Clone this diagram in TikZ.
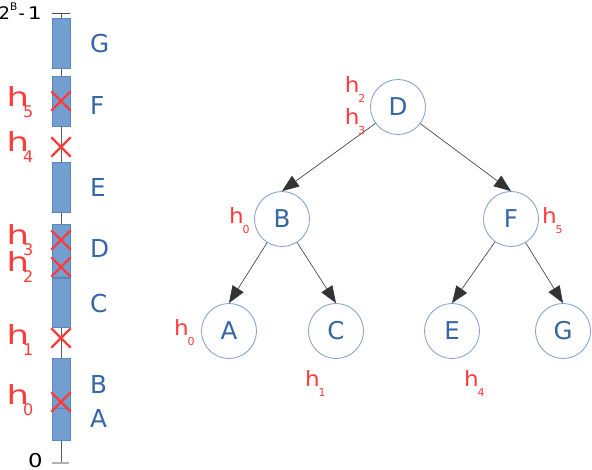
\documentclass[tikz,border=0pt]{standalone}
\usepackage{fontspec}
\setmainfont{DejaVu Sans}
\usepackage{graphicx}
\usetikzlibrary{positioning, arrows.meta, shapes.misc}

\definecolor{keyblue}{HTML}{3465A4}
\definecolor{keyline}{HTML}{7F9CCB}
\definecolor{barblue}{HTML}{729FCF}
\definecolor{barline}{HTML}{5A86BA}
\definecolor{hitred}{HTML}{FF3B3B}

\newcommand{\hbig}[1]{\scalebox{1.35}[1]{h}\kern-5.8pt\raisebox{-11pt}{\fontsize{16}{16}\selectfont #1}}
\newcommand{\hsm}[1]{\scalebox{1.1}[1]{h}\kern-1.1pt\raisebox{-9.5pt}{\fontsize{11}{11}\selectfont #1}}

\begin{document}
\begin{tikzpicture}[x=1pt, y=-1pt,
    key/.style={circle, draw=keyline, line width=0.8pt, minimum size=55pt, inner sep=0pt,
                text=keyblue, font=\fontsize{24.5}{28}\selectfont},
    bar/.style={fill=barblue, draw=barline, line width=0.5pt},
    hit/.style={cross out, draw=hitred, line width=2.4pt, minimum size=17pt, inner sep=0pt},
    slot/.style={anchor=base west, inner sep=0pt, text=keyblue, font=\fontsize{24.7}{30}\selectfont},
    hbl/.style={anchor=base west, inner sep=0pt, text=hitred, font=\fontsize{26.3}{32}\selectfont},
    hsl/.style={anchor=base west, inner sep=0pt, text=hitred, font=\fontsize{21}{25}\selectfont},
    arr/.style={-{Triangle[length=17pt, width=13pt]}, draw=black!80, line width=0.6pt}]
    \useasboundingbox (0, 0) rectangle (592, 470);

    % hash ring as a line
    \coordinate (top) at (61, 13);
    \coordinate (bot) at (61, 463);
    \draw[black!65, line width=0.8pt] (top) -- (bot);
    \draw[black!70, line width=0.8pt] (52, 13) -- (70, 13);
    \draw[black!30, line width=2pt] (52, 463) -- (69, 463);
    \node[anchor=base west, inner sep=0pt, font=\fontsize{17.4}{22}\selectfont] (tmax) at (-1.4, 20)
        {2\kern0.3pt\raisebox{9pt}{\fontsize{10.5}{12}\selectfont B}\kern1.3pt-\kern2.8pt\scalebox{1.25}[1]{1}};
    \node[anchor=base west, inner sep=0pt, font=\fontsize{19}{22}\selectfont] (tmin) at (28, 467.5)
        {\scalebox{1.2}[1]{0}};

    \draw[bar] (52, 18) rectangle (70, 68);
    \draw[bar] (52, 76) rectangle (70, 126);
    \draw[bar] (52, 162) rectangle (70, 212);
    \draw[bar] (52, 224) rectangle (70, 277);
    \draw[bar] (52, 278) rectangle (70, 327);
    \draw[bar] (52, 358) rectangle (70, 408);
    \draw[bar] (52, 408) rectangle (70, 440);

    \node[slot] (lG) at (90, 53) {G};
    \node[slot] (lF) at (90, 115) {F};
    \node[slot] (lE) at (90, 197) {E};
    \node[slot] (lD) at (90, 258) {D};
    \node[slot] (lC) at (90, 313) {C};
    \node[slot] (lB) at (90, 394) {B};
    \node[slot] (lA) at (90, 427) {A};

    \node[hit] (x5) at (61, 101) {};
    \node[hit] (x4) at (61, 147) {};
    \node[hit] (x3) at (61, 240) {};
    \node[hit] (x2) at (61, 267) {};
    \node[hit] (x1) at (61, 338) {};
    \node[hit] (x0) at (61, 402) {};

    \node[hbl] (h5) at (6.3, 107) {\hbig{5}};
    \node[hbl] (h4) at (6.3, 152) {\hbig{4}};
    \node[hbl] (h3) at (6.3, 245) {\hbig{3}};
    \node[hbl] (h2) at (6.3, 272) {\hbig{2}};
    \node[hbl] (h1) at (6.3, 345) {\hbig{1}};
    \node[hbl] (h0) at (6.3, 405) {\hbig{0}};

    % search tree
    \node[key] (kD) at (398, 107) {D};
    \node[key] (kB) at (282, 219) {B};
    \node[key] (kF) at (511, 219) {F};
    \node[key] (kA) at (229, 331) {A};
    \node[key] (kC) at (336, 331) {C};
    \node[key] (kE) at (452, 331) {E};
    \node[key] (kG) at (563, 331) {G};

    \draw (kD) edge[arr] (kB.north)
          (kD) edge[arr] (kF.north)
          (kB) edge[arr] (kA.north)
          (kB) edge[arr] (kC.north)
          (kF) edge[arr] (kE.north)
          (kF) edge[arr] (kG.north);

    \node[hsl] (t2) at (344.6, 92.7) {\hsm{2}};
    \node[hsl] (t3) at (344.6, 125) {\hsm{3}};
    \node[hsl] (t0b) at (229, 224) {\hsm{0}};
    \node[hsl] (t5) at (542, 224) {\hsm{5}};
    \node[hsl] (t0a) at (174, 336) {\hsm{0}};
    \node[hsl] (t1) at (305, 387) {\hsm{1}};
    \node[hsl] (t4) at (464, 387) {\hsm{4}};
\end{tikzpicture}
\end{document}
